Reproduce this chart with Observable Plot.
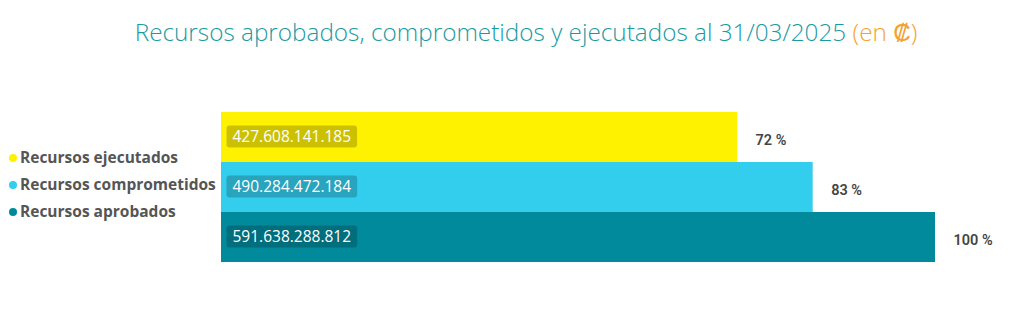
<!DOCTYPE html>
<html>
<head>
<meta charset="utf-8">
<script src="https://cdn.jsdelivr.net/npm/d3@7"></script>
<script src="https://cdn.jsdelivr.net/npm/@observablehq/plot@0.6"></script>
<style>
  html, body { margin: 0; padding: 0; background: #fff; }
  #wrap { position: relative; width: 1024px; height: 316px; overflow: hidden; }
  #title { position: absolute; left: 14px; top: 15px; width: 1024px; text-align: center;
    font-family: "Open Sans", sans-serif; font-weight: 300; font-size: 24.3px; color: #1a9aa2; white-space: nowrap; }
  #title span { color: #f5a12e; }
  #legend { position: absolute; left: 9px; top: 144px; font-family: "Open Sans", sans-serif;
    font-weight: 700; font-size: 15.5px; color: #555; line-height: 27px; }
  #legend .dot { display: inline-block; width: 8px; height: 8px; border-radius: 50%; margin-right: 3px; vertical-align: 1px; }
  #chart { position: absolute; left: 0; top: 75px; }
</style>
</head>
<body>
<div id="wrap">
  <div id="title">Recursos aprobados, comprometidos y ejecutados al 31/03/2025 <span>(en ₡)</span></div>
  <div id="legend"></div>
  <div id="chart"></div>
</div>
<script>
const categories = ["Recursos ejecutados", "Recursos comprometidos", "Recursos aprobados"];
const values = [427608141185, 490284472184, 591638288812];
const valueLabels = ["427.608.141.185", "490.284.472.184", "591.638.288.812"];
const percentLabels = ["72 %", "83 %", "100 %"];
const colors = ["#fff200", "#33cdee", "#008a9c"];
const legendOrder = ["Recursos ejecutados", "Recursos comprometidos", "Recursos aprobados"];

const data = categories.map((c, i) => ({cat: c, value: values[i], vlab: valueLabels[i], plab: percentLabels[i]}));

const legend = document.getElementById("legend");
legendOrder.forEach(name => {
  const i = categories.indexOf(name);
  const row = document.createElement("div");
  row.innerHTML = `<span class="dot" style="background:${colors[i]}"></span>${name}`;
  legend.appendChild(row);
});

const plot = Plot.plot({
  width: 1024,
  height: 241,
  marginLeft: 221,
  marginRight: 89,
  marginTop: 36,
  marginBottom: 54,
  x: {domain: [0, d3.max(values)], axis: null},
  y: {domain: categories, axis: null, padding: 0},
  color: {domain: categories, range: colors},
  style: {background: "transparent"},
  marks: [
    Plot.barX(data, {x: "value", y: "cat", fill: "cat"}),
    Plot.text(data, {x: 0, y: "cat", text: "vlab", textAnchor: "start", dx: 11, dy: 0,
      fill: "#fff", fontSize: 15.5, fontFamily: "Open Sans, sans-serif", className: "vlab"}),
    Plot.text(data, {x: "value", y: "cat", text: "plab", textAnchor: "start", dx: 18, dy: 3,
      fill: "#444", fontSize: 14.5, fontWeight: 600, fontFamily: "Roboto, sans-serif"})
  ]
});
document.getElementById("chart").appendChild(plot);

// add dark rounded boxes behind value labels
d3.select(plot).selectAll("g.vlab text").each(function() {
  const b = this.getBBox();
  const t = this.getAttribute("transform");
  const r = d3.select(this.parentNode).insert("rect", () => this)
    .attr("x", b.x - 6).attr("y", b.y)
    .attr("width", b.width + 12).attr("height", b.height)
    .attr("rx", 3).attr("fill", "#000").attr("fill-opacity", 0.2);
  if (t) r.attr("transform", t);
});
</script>
</body>
</html>
